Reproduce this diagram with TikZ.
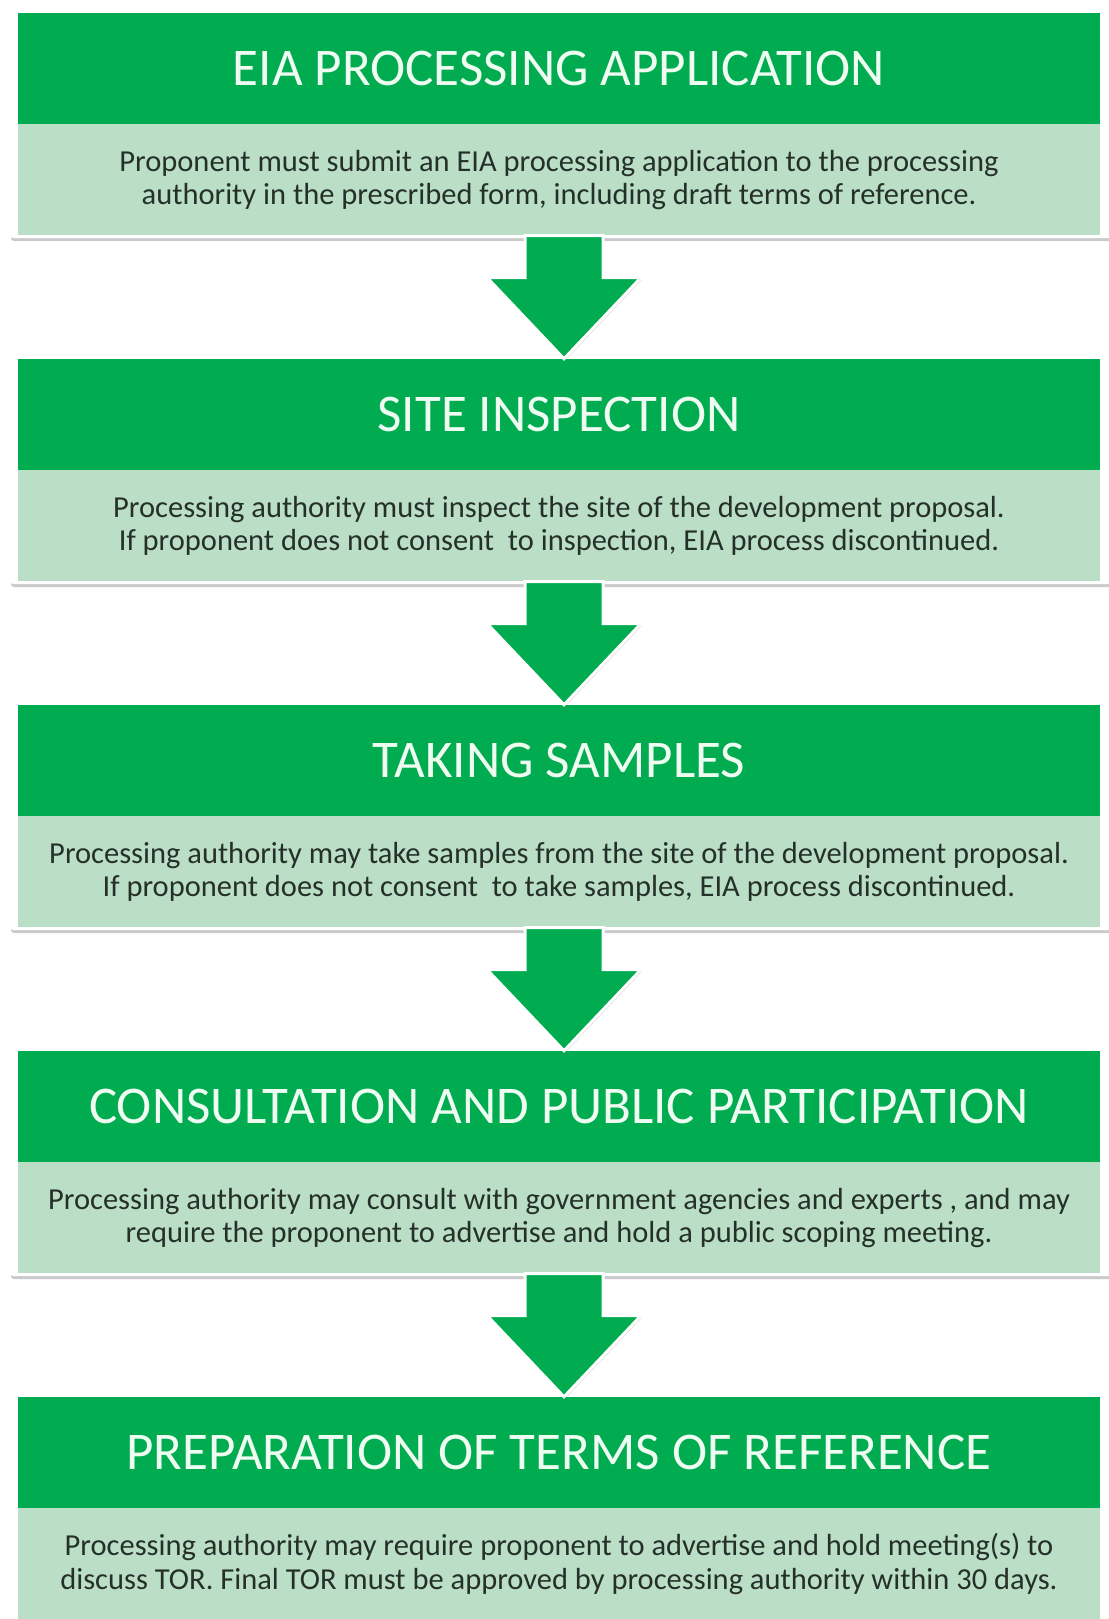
\documentclass[tikz,border=0pt]{standalone}
\usepackage{fontspec}
\setmainfont{Carlito}
\usetikzlibrary{positioning,calc,shadows}
\definecolor{stepgreen}{HTML}{00AC4F}
\definecolor{notegreen}{HTML}{BADFC6}
\definecolor{titletext}{HTML}{EEFCF2}
\definecolor{notetext}{HTML}{26302A}

\begin{document}
\begin{tikzpicture}[x=1pt,y=1pt]
    \tikzset{
        frame/.style={fill=white, rounded corners=3pt, drop shadow={shadow xshift=1pt, shadow yshift=-3pt, opacity=0.35, fill=black!60}},
        header/.style={fill=stepgreen, minimum width=1082pt, minimum height=111pt, inner sep=0pt, text=titletext, font=\fontsize{53}{58}\selectfont},
        note/.style={fill=notegreen, minimum width=1082pt, minimum height=111pt, inner sep=0pt, text=notetext, align=center, font=\fontsize{30.5}{33.5}\selectfont},
        blockarrow/.style={fill=stepgreen, draw=white, line width=3pt, line join=miter, drop shadow={shadow xshift=1pt, shadow yshift=-2pt, opacity=0.3}}
    }
    \useasboundingbox (0,0) rectangle (1108,-1619);

    % Steps
    \foreach \n/\T/\title/\desc in {
        1/13/{EIA PROCESSING APPLICATION}/{Proponent must submit an EIA processing application to the processing\\authority in the prescribed form, including draft terms of reference.},
        2/359/{SITE INSPECTION}/{Processing authority must inspect the site of the development proposal.\\If proponent does not consent\ \ to inspection, EIA process discontinued.},
        3/705/{TAKING SAMPLES}/{Processing authority may take samples from the site of the development proposal.\\If proponent does not consent\ \ to take samples, EIA process discontinued.},
        4/1051/{CONSULTATION AND PUBLIC PARTICIPATION}/{Processing authority may consult with government agencies and experts , and may\\require the proponent to advertise and hold a public scoping meeting.},
        5/1397/{PREPARATION OF TERMS OF REFERENCE}/{Processing authority may require proponent to advertise and hold meeting(s) to\\discuss TOR. Final TOR must be approved by processing authority within 30 days.}}{
        \pgfmathsetmacro{\y}{-\T-55.5}
        \fill[frame] (10,{-\T+8}) rectangle (1114,{-\T-225});
        \node[header] (hd\n) at (559,\y) {\title};
        \node[note, below=0pt of hd\n] (bd\n) {\desc};
    }

    % Arrows between steps
    \foreach \m in {1,...,4}{
        \pgfmathsetmacro{\n}{int(\m+1)}
        \draw[blockarrow] ($(bd\m.south)+(-34,0)$) -- ($(bd\m.south)+(44,0)$) -- ($(bd\m.south)+(44,-42)$)
            -- ($(bd\m.south)+(82,-42)$) -- ($(hd\n.north)+(5,0)$) -- ($(bd\m.south)+(-72,-42)$)
            -- ($(bd\m.south)+(-34,-42)$) -- cycle;
    }
\end{tikzpicture}
\end{document}
